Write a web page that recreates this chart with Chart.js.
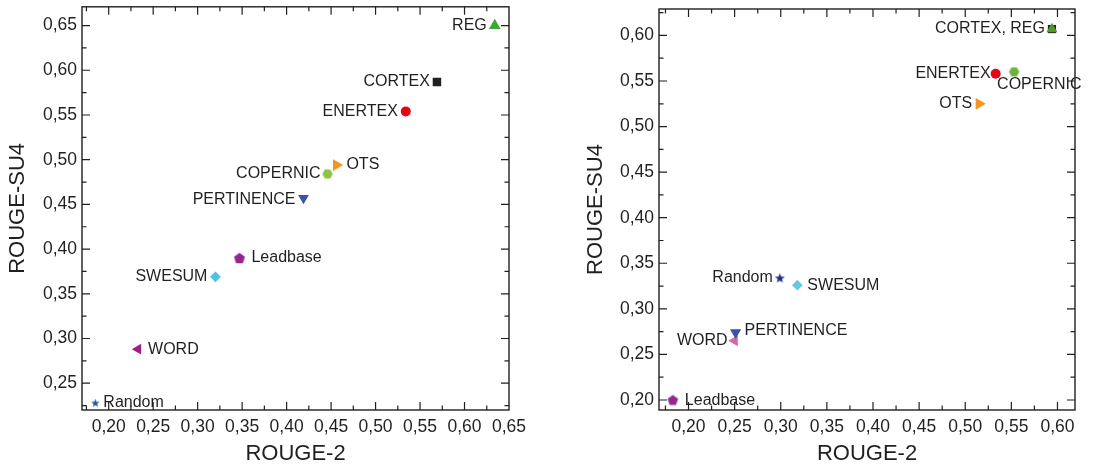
<!DOCTYPE html>
<html>
<head>
<meta charset="utf-8">
<script src="https://cdn.jsdelivr.net/npm/chart.js@4/dist/chart.umd.min.js"></script>
<style>
  html, body { margin: 0; padding: 0; background: #fff; }
  body { width: 1097px; height: 468px; position: relative; overflow: hidden; }
  .box { position: absolute; top: 0; height: 468px; }
  #b1 { left: 0; width: 530px; }
  #b2 { left: 560px; width: 537px; }
</style>
</head>
<body>
<div class="box" id="b1"><canvas id="c1"></canvas></div>
<div class="box" id="b2"><canvas id="c2"></canvas></div>
<script>
// ---------- DATA ----------
// Left panel
const leftNames = ['Random', 'WORD', 'SWESUM', 'Leadbase', 'PERTINENCE', 'COPERNIC', 'OTS', 'ENERTEX', 'CORTEX', 'REG'];
const leftRouge2 = [0.185, 0.233, 0.320, 0.347, 0.419, 0.446, 0.456, 0.534, 0.569, 0.634];
const leftSU4    = [0.228, 0.288, 0.369, 0.390, 0.457, 0.484, 0.494, 0.554, 0.587, 0.650];
const leftXTicks = [0.20, 0.25, 0.30, 0.35, 0.40, 0.45, 0.50, 0.55, 0.60, 0.65];
const leftYTicks = [0.25, 0.30, 0.35, 0.40, 0.45, 0.50, 0.55, 0.60, 0.65];

// Right panel
const rightNames = ['Leadbase', 'WORD', 'PERTINENCE', 'Random', 'SWESUM', 'OTS', 'ENERTEX', 'COPERNIC', 'CORTEX', 'CORTEX, REG'];
const rightRouge2 = [0.183, 0.250, 0.251, 0.299, 0.318, 0.515, 0.533, 0.553, 0.594, 0.594];
const rightSU4    = [0.200, 0.265, 0.274, 0.334, 0.326, 0.525, 0.558, 0.560, 0.607, 0.607];
const rightXTicks = [0.20, 0.25, 0.30, 0.35, 0.40, 0.45, 0.50, 0.55, 0.60];
const rightYTicks = [0.20, 0.25, 0.30, 0.35, 0.40, 0.45, 0.50, 0.55, 0.60];

// ---------- STYLE ----------
const INK = '#231f20';
const FONT = "'Liberation Sans', Arial, sans-serif";

function shapeCanvas(kind, size, color) {
  const c = document.createElement('canvas');
  const s = Math.ceil(size) + 2;
  c.width = s; c.height = s;
  const g = c.getContext('2d');
  const cx = s / 2, cy = s / 2, R = size / 2;
  g.fillStyle = color;
  g.beginPath();
  if (kind === 'star') {
    for (let i = 0; i < 10; i++) {
      const r = i % 2 === 0 ? R : R * 0.42;
      const a = -Math.PI / 2 + i * Math.PI / 5;
      const px = cx + r * Math.cos(a), py = cy + r * Math.sin(a) + R * 0.1;
      i === 0 ? g.moveTo(px, py) : g.lineTo(px, py);
    }
  } else if (kind === 'pentagon') {
    for (let i = 0; i < 5; i++) {
      const a = -Math.PI / 2 + i * 2 * Math.PI / 5;
      const px = cx + R * Math.cos(a), py = cy + R * Math.sin(a) + R * 0.1;
      i === 0 ? g.moveTo(px, py) : g.lineTo(px, py);
    }
  } else if (kind === 'hexagon') {
    for (let i = 0; i < 6; i++) {
      const a = i * Math.PI / 3;
      const px = cx + R * Math.cos(a), py = cy + R * Math.sin(a);
      i === 0 ? g.moveTo(px, py) : g.lineTo(px, py);
    }
  }
  g.closePath();
  g.fill();
  return c;
}

// per-point marker styles [style, radius, rotation, color]
const leftMarkers = [
  [shapeCanvas('star', 9, '#1c5aa6'), 5, 0, '#1c5aa6'],       // Random
  ['triangle', 6.2, 270, '#a3197f'],                          // WORD
  ['rectRot', 5.4, 0, '#4fc1e9'],                             // SWESUM
  [shapeCanvas('pentagon', 11.5, '#92278f'), 6, 0, '#92278f'],// Leadbase
  ['triangle', 6.2, 180, '#3953a4'],                          // PERTINENCE
  [shapeCanvas('hexagon', 10.5, '#8cc63f'), 5, 0, '#8cc63f'], // COPERNIC
  ['triangle', 6.8, 90, '#f7941d'],                           // OTS
  ['circle', 5, 0, '#e30613'],                                // ENERTEX
  ['rect', 6, 0, INK],                                        // CORTEX
  ['triangle', 6.8, 0, '#3aaa35']                             // REG
];
const rightMarkers = [
  [shapeCanvas('pentagon', 11, '#92278f'), 6, 0, '#92278f'],  // Leadbase
  ['triangle', 6.4, 270, '#d16aa9'],                          // WORD
  ['triangle', 6.4, 180, '#3953a4'],                          // PERTINENCE
  [shapeCanvas('star', 10.5, '#262b80'), 5, 0, '#262b80'],    // Random
  ['rectRot', 5.4, 0, '#67c8e0'],                             // SWESUM
  ['triangle', 6.8, 90, '#f7941d'],                           // OTS
  ['circle', 5, 0, '#e30613'],                                // ENERTEX
  [shapeCanvas('hexagon', 10.5, '#6cb33f'), 5, 0, '#6cb33f'], // COPERNIC
  ['rect', 5.8, 0, INK],                                      // CORTEX
  ['triangle', 6.4, 0, '#4d9a2a']                             // REG
];

// label placement [side, dx, dy]  side: 'l' = text to the left, 'r' = text to the right
const leftLabelPos = [
  ['r', 8, 0], ['r', 10, 0], ['l', 8, 0], ['r', 12, 0], ['l', 8, 1],
  ['l', 7, 0], ['r', 10, 0], ['l', 8, 0], ['l', 7, 0], ['l', 8, 0]
];
const rightLabelPos = [
  ['r', 12, 1], ['l', 7, 0], ['r', 9, -2], ['l', 7, 0], ['r', 10, 0],
  ['l', 7, 0], ['l', 5, 0], ['r', -17, 13], null, ['l', 7, 0]
];

// ---------- PLUGINS ----------
const frameTicks = {
  id: 'frameTicks',
  afterDatasetsDraw(chart, args, opts) {
    const { ctx, chartArea: a, scales } = chart;
    ctx.save();
    ctx.strokeStyle = INK;
    ctx.lineWidth = 1.2;
    const maj = 8, mn = 4.5;
    const xs = opts.xTicks, ys = opts.yTicks;
    const step = 0.025;
    const xStart = xs[0] - step, xEnd = xs[xs.length - 1] + step;
    for (let v = xStart; v <= xEnd + 1e-9; v += step) {
      const p = scales.x.getPixelForValue(v);
      if (p < a.left + 0.5 || p > a.right - 0.5) continue;
      const isMaj = xs.some(t => Math.abs(t - v) < 1e-6);
      const l = isMaj ? maj : mn;
      ctx.beginPath();
      ctx.moveTo(p, a.bottom); ctx.lineTo(p, a.bottom - l);
      ctx.moveTo(p, a.top); ctx.lineTo(p, a.top + l);
      ctx.stroke();
    }
    const yStart = ys[0] - step, yEnd = ys[ys.length - 1] + step;
    for (let v = yStart; v <= yEnd + 1e-9; v += step) {
      const p = scales.y.getPixelForValue(v);
      if (p < a.top + 0.5 || p > a.bottom - 0.5) continue;
      const isMaj = ys.some(t => Math.abs(t - v) < 1e-6);
      const l = isMaj ? maj : mn;
      ctx.beginPath();
      ctx.moveTo(a.left, p); ctx.lineTo(a.left + l, p);
      ctx.moveTo(a.right, p); ctx.lineTo(a.right - l, p);
      ctx.stroke();
    }
    ctx.lineWidth = 1.4;
    ctx.strokeRect(a.left, a.top, a.right - a.left, a.bottom - a.top);
    ctx.restore();
  }
};

const pointLabels = {
  id: 'pointLabels',
  afterDatasetsDraw(chart, args, opts) {
    const { ctx } = chart;
    const meta = chart.getDatasetMeta(0);
    ctx.save();
    ctx.font = '16px ' + FONT;
    ctx.fillStyle = INK;
    ctx.textBaseline = 'middle';
    opts.names.forEach((n, i) => {
      const pos = opts.pos[i];
      if (!pos) return;
      const el = meta.data[i];
      const [side, dx, dy] = pos;
      if (side === 'l') { ctx.textAlign = 'right'; ctx.fillText(n, el.x - dx, el.y + dy); }
      else { ctx.textAlign = 'left'; ctx.fillText(n, el.x + dx, el.y + dy); }
    });
    ctx.restore();
  }
};

function fmt(v) { return v.toFixed(2).replace('.', ','); }

function makeChart(id, xs, ys, names, markers, labelPos, xr, yr, xTicks, yTicks, yWidth, pad, titleLeftPad) {
  const pts = xs.map((x, i) => ({ x: x, y: ys[i] }));
  return new Chart(document.getElementById(id), {
    type: 'scatter',
    data: {
      datasets: [{
        data: pts,
        pointStyle: markers.map(m => m[0]),
        pointRadius: markers.map(m => m[1]),
        pointRotation: markers.map(m => m[2]),
        backgroundColor: markers.map(m => m[3]),
        borderColor: markers.map(m => m[3]),
        borderWidth: 0,
        pointHoverRadius: markers.map(m => m[1])
      }]
    },
    options: {
      responsive: true,
      maintainAspectRatio: false,
      devicePixelRatio: 1,
      animation: false,
      events: [],
      layout: { padding: pad },
      plugins: {
        legend: { display: false },
        tooltip: { enabled: false },
        frameTicks: { xTicks: xTicks, yTicks: yTicks },
        pointLabels: { names: names, pos: labelPos }
      },
      scales: {
        x: {
          type: 'linear', min: xr[0], max: xr[1],
          afterBuildTicks: s => { s.ticks = xTicks.map(v => ({ value: v })); },
          afterFit: s => { s.height = 58; s.paddingLeft = 0; s.paddingRight = 0; },
          grid: { display: false, drawTicks: false },
          border: { display: false },
          ticks: { callback: v => fmt(v), font: { family: FONT, size: 17.5 }, color: INK, padding: 7, maxRotation: 0, autoSkip: false },
          title: { display: true, text: 'ROUGE-2', font: { family: FONT, size: 22 }, color: INK, padding: { top: 0, bottom: 1 } }
        },
        y: {
          type: 'linear', min: yr[0], max: yr[1],
          afterBuildTicks: s => { s.ticks = yTicks.map(v => ({ value: v })); },
          afterFit: s => { s.width = yWidth; s.paddingTop = 0; s.paddingBottom = 0; },
          grid: { display: false, drawTicks: false },
          border: { display: false },
          ticks: { callback: v => fmt(v), font: { family: FONT, size: 17.5 }, color: INK, padding: 5, autoSkip: false },
          title: { display: true, text: 'ROUGE-SU4', font: { family: FONT, size: 22 }, color: INK, padding: { top: titleLeftPad, bottom: 0 } }
        }
      }
    },
    plugins: [frameTicks, pointLabels]
  });
}

makeChart('c1', leftRouge2, leftSU4, leftNames, leftMarkers, leftLabelPos,
  [0.170, 0.650], [0.220, 0.671], leftXTicks, leftYTicks, 82,
  { top: 6, right: 21, bottom: 0, left: 0 }, 5);

makeChart('c2', rightRouge2, rightSU4, rightNames, rightMarkers, rightLabelPos,
  [0.168, 0.619], [0.189, 0.629], rightXTicks, rightYTicks, 99,
  { top: 9, right: 22, bottom: 0, left: 0 }, 23);
</script>
</body>
</html>
